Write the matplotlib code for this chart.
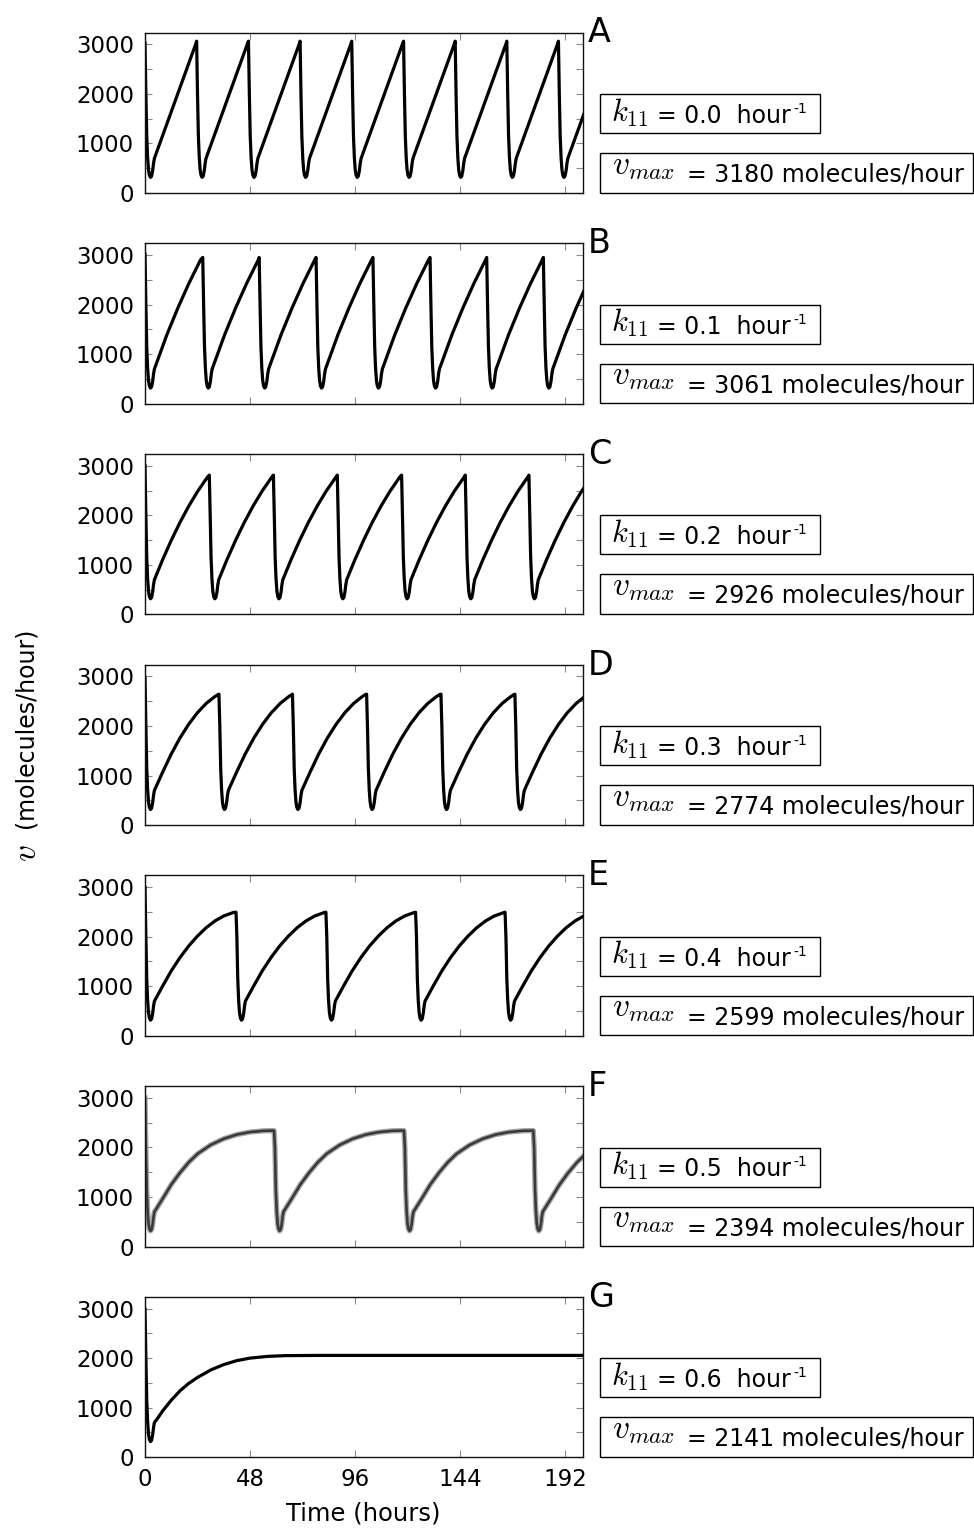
import matplotlib
matplotlib.use("Agg")
import matplotlib.pyplot as plt
from matplotlib.patches import Rectangle
from matplotlib.ticker import MultipleLocator, FixedLocator

plt.rcParams['font.family'] = ['DejaVu Sans']
plt.rcParams['mathtext.fontset'] = 'cm'

# ---------------- data ----------------
letters = ["A", "B", "C", "D", "E", "F", "G"]
k11_values = ["0.0", "0.1", "0.2", "0.3", "0.4", "0.5", "0.6"]
vmax_values = [3180, 3061, 2926, 2774, 2599, 2394, 2141]

# value at t = 0 and value of each later peak (molecules/hour)
start_values = [3030, 3020, 3000, 2980, 3000, 3000, 2990]
peak_values = [3065, 2952, 2811, 2643, 2495, 2340, 2055]

# times (hours) at which the sharp drops start
drop_times = [
    [0, 23.6, 47.3, 70.9, 94.5, 118.2, 141.8, 165.4, 189.0],
    [0, 26.4, 52.2, 78.2, 104.2, 130.3, 156.2, 182.1],
    [0, 29.4, 58.7, 87.9, 117.3, 146.4, 175.5],
    [0, 33.8, 67.4, 101.3, 135.3, 169.1],
    [0, 41.6, 82.7, 123.7, 164.6],
    [0, 59.0, 118.4, 177.5],
    [0],
]

# shape of the drop / trough after each peak (hours after drop start, value)
trough_dt = [0.4, 0.8, 1.2, 1.6, 2.0, 2.5, 3.0, 3.5, 3.9, 4.3]
trough_v = [2000, 1150, 720, 470, 360, 315, 340, 450, 600, 700]

# slow rise after the trough (hours after drop start, value)
rise_dt = [
    [23.3],
    [10, 15, 20, 25.4],
    [8, 12, 16, 20, 24, 28.7],
    [8, 12, 16, 20, 24, 28, 32, 33.4],
    [8, 12, 16, 20, 24, 28, 32, 36, 40.5],
    [8, 12, 16, 20, 24, 30, 36, 42, 48, 54, 58.5],
    [6, 8, 12, 16, 20, 24, 30, 36, 42, 48, 56, 64, 80, 120, 210],
]
rise_v = [
    [3020],
    [1392, 1930, 2423, 2904],
    [1098, 1495, 1858, 2186, 2480, 2781],
    [1063, 1435, 1760, 2038, 2271, 2457, 2597, 2635],
    [1000, 1310, 1580, 1815, 2014, 2184, 2319, 2419, 2491],
    [960, 1250, 1490, 1700, 1870, 2050, 2175, 2260, 2310, 2335, 2340],
    [800, 930, 1150, 1340, 1490, 1610, 1760, 1870, 1950, 2000, 2035, 2050, 2055, 2055, 2055],
]

x_ticks = [0, 48, 96, 144, 192]
y_ticks = [0, 1000, 2000, 3000]
x_range = (0, 200)
y_range = (0, 3240)

# ---------------- figure ----------------
W, H = 974, 1528
fig = plt.figure(figsize=(W / 100, H / 100), dpi=100)


def X(px):
    return px / W


def Y(py):
    return 1 - py / H


ax_left, ax_right = 145, 582.5
ax_h = 160.5
first_top = 32.5
step = 210.7


def build(i):
    ts, vs = [], []
    for j, d in enumerate(drop_times[i]):
        ts.append(d)
        vs.append(start_values[i] if j == 0 else peak_values[i])
        for dt, v in zip(trough_dt + rise_dt[i], trough_v + rise_v[i]):
            ts.append(d + dt)
            vs.append(v)
    return ts, vs


for i in range(7):
    T = first_top + step * i
    ax = fig.add_axes([X(ax_left), Y(T + ax_h), (ax_right - ax_left) / W, ax_h / H])
    ts, vs = build(i)
    if letters[i] == "F":
        ax.plot(ts, vs, color="#a8a8a8", lw=3.8, solid_joinstyle="round")
        ax.plot(ts, vs, color="#3a3a3a", lw=1.9, solid_joinstyle="round")
    else:
        ax.plot(ts, vs, color="black", lw=2.3, solid_joinstyle="round")
    ax.set_xlim(*x_range)
    ax.set_ylim(*y_range)
    ax.xaxis.set_major_locator(FixedLocator(x_ticks))
    ax.yaxis.set_major_locator(FixedLocator(y_ticks))
    ax.yaxis.set_minor_locator(MultipleLocator(500))
    ax.tick_params(which="both", direction="in", top=True, right=True,
                   length=5, width=0.8, color="#8a8a8a")
    ax.tick_params(which="major", labelsize=16.5, pad=8)
    if i < 6:
        ax.tick_params(labelbottom=False)
    for s in ax.spines.values():
        s.set_linewidth(1.0)
        s.set_color("#111111")

    # panel letter
    fig.text(X(588), Y(T + 10), letters[i], fontsize=24, va="baseline", ha="left")

    # k11 box
    fig.add_artist(Rectangle((X(600), Y(T + 100.5)), 220 / W, 39 / H,
                             transform=fig.transFigure, fc="white", ec="black", lw=1.0))
    fig.text(X(611), Y(T + 89), r"$k_{11}$", fontsize=22, va="baseline", ha="left")
    fig.text(X(657), Y(T + 90.5), "= %s  hour" % k11_values[i], fontsize=17,
             va="baseline", ha="left")
    fig.text(X(793), Y(T + 80.5), "-1", fontsize=10, va="baseline", ha="left")

    # vmax box
    fig.add_artist(Rectangle((X(599.5), Y(T + 160)), 373 / W, 39.5 / H,
                             transform=fig.transFigure, fc="white", ec="black", lw=1.0))
    fig.text(X(612), Y(T + 141.5), r"$v_{max}$", fontsize=24, va="baseline", ha="left")
    fig.text(X(687), Y(T + 149), "= %d molecules/hour" % vmax_values[i], fontsize=17,
             va="baseline", ha="left")

# axis labels
fig.text(X(25.5), Y(728), "(molecules/hour)", rotation=90, fontsize=17,
         ha="center", va="center")
fig.text(X(27), Y(853), r"$v$", rotation=90, fontsize=24, ha="center", va="center")
fig.text(X((ax_left + ax_right) / 2), Y(1513), "Time (hours)", fontsize=17.5,
         ha="center", va="center")

fig.savefig("out.png", dpi=100)
